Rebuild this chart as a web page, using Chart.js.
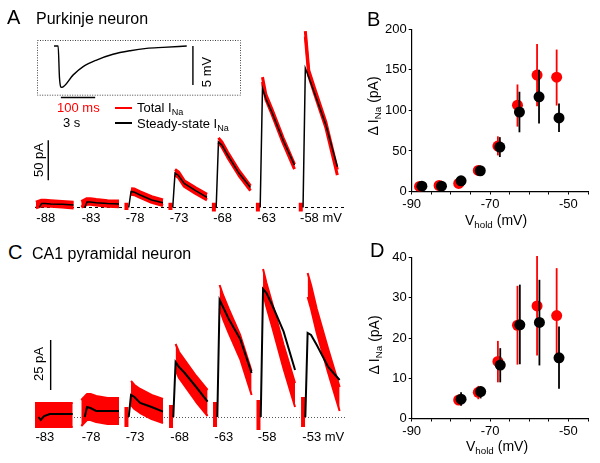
<!DOCTYPE html>
<html><head><meta charset="utf-8">
<script src="https://cdn.jsdelivr.net/npm/chart.js@4.4.1/dist/chart.umd.min.js"></script>
<style>
html,body{margin:0;padding:0;background:#fff;}
#root{position:relative;width:600px;height:463px;overflow:hidden;font-family:"Liberation Sans",Arial,sans-serif;color:#000;}
canvas{position:absolute;}
.t{position:absolute;white-space:nowrap;line-height:1;}
.rot{transform:translate(-50%,-50%) rotate(-90deg);}
.ctr{transform:translate(-50%,-50%);}
sub{font-size:0.7em;vertical-align:-0.3em;line-height:0;}
.sw{position:absolute;height:1.5px;width:17px;}
</style></head><body><div id="root">
<canvas id="cA" width="320" height="220" style="left:30px;top:15px"></canvas>
<canvas id="cI" width="220" height="70" style="left:30px;top:35px"></canvas>
<canvas id="cC" width="320" height="200" style="left:30px;top:252px"></canvas>
<canvas id="cB" width="240" height="230" style="left:360px;top:0px"></canvas>
<canvas id="cD" width="240" height="233" style="left:360px;top:230px"></canvas>

<div class="t" style="left:7px;top:7.4px;font-size:20px">A</div>
<div class="t" style="left:36px;top:10.9px;font-size:16px">Purkinje neuron</div>
<div class="t" style="left:367px;top:9.4px;font-size:20px">B</div>
<div class="t" style="left:8px;top:242.4px;font-size:20px">C</div>
<div class="t" style="left:32px;top:246.2px;font-size:16px">CA1 pyramidal neuron</div>
<div class="t" style="left:370px;top:240.4px;font-size:20px">D</div>
<div class="t rot" style="left:38px;top:160px;font-size:13px">50 pA</div>
<div class="t rot" style="left:37.5px;top:364px;font-size:13px">25 pA</div>
<div class="t rot" style="left:206px;top:72px;font-size:13px">5 mV</div>
<div class="t" style="left:57px;top:101px;font-size:13px;color:#ff0000">100 ms</div>
<div class="t" style="left:63px;top:115.5px;font-size:13px">3 s</div>
<div class="sw" style="left:115px;top:107px;background:#ff0000"></div>
<div class="sw" style="left:115px;top:122px;background:#000"></div>
<div class="t" style="left:137px;top:101px;font-size:13px">Total I<sub>Na</sub></div>
<div class="t" style="left:137px;top:116.5px;font-size:13px">Steady-state I<sub>Na</sub></div>
<div class="t rot" style="left:373px;top:106px;font-size:14px">Δ I<sub>Na</sub> (pA)</div>
<div class="t ctr" style="left:496px;top:220px;font-size:14px">V<sub>hold</sub> (mV)</div>
<div class="t rot" style="left:374px;top:345px;font-size:14px">Δ I<sub>Na</sub> (pA)</div>
<div class="t ctr" style="left:497px;top:446px;font-size:14px">V<sub>hold</sub> (mV)</div>
</div>
<script>
// ---------- Panel A inset: voltage trace (ms, mV) ----------
const insetT = [0, 12, 16, 22, 56, 85, 124, 172, 222, 270, 318, 387];
const insetV = [0, 0, -4.1, -5.3, -3.7, -2.65, -1.8, -1.06, -0.6, -0.3, -0.17, 0];

// ---------- Panel A: Purkinje traces (s, pA) ----------
const holdA = [-88, -83, -78, -73, -68, -63, -58];
const sweepStartA = [0.38, 4.35, 8.2, 12.05, 15.85, 19.7, 23.45];
const tSample = [0.2, 0.5, 1, 2, 3];
const ssA_peak = [5, 7, 20, 43, 82, 149, 174];
const ssA_05 = [5, 7, 19, 40, 78, 136, 163];
const ssA_1 = [4.5, 6, 15.6, 30, 65.6, 120, 143];
const ssA_2 = [4, 5, 9.4, 21, 42.7, 84, 103];
const ssA_3 = [3, 4.4, 6, 12.7, 25, 53, 51];
const totA_pre = [3, 4, null, null, null, null, null];
const totA_peak = [5.5, 7.5, 20, 44, 84, 160, 217];
const totA_05 = [5.5, 7.5, 19.5, 41, 79, 138, 168];
const totA_1 = [5, 6.5, 16, 30, 66, 121, 146];
const totA_2 = [4, 5, 10, 21, 43, 84, 103];
const totA_3 = [3, 4.5, 6, 13, 24, 51, 44];
const noiseA = [3.5, 3.5, 3.5, 3.5, 3, 3, 3.5];
const blipA_hi = [null, null, 6, 6, 6, 6, 6];
const blipA_lo = [null, null, -3, -3, -5, -5, -5];

// ---------- Panel C: CA1 traces (s, pA) ----------
const holdC = [-83, -78, -73, -68, -63, -58, -53];
const sweepStartC = [0.3, 4.35, 8.2, 12.1, 15.95, 19.75, 23.65];
const ssC_peak = [-1.5, 5, 11, 27.5, 58.5, 64, 42];
const ssC_05 = [0.5, 4.5, 10, 25, 55, 62, 41];
const ssC_1 = [1.5, 3, 7, 22, 49, 56, 36];
const ssC_2 = [1.5, 3, 5, 15, 39, 42.7, 25];
const ssC_3 = [1.5, 3, 2.7, 7.7, 22, 23.5, 18.5];
const totC_pre = [1, 2, null, null, null, null, null];
const totC_peak = [1, 5, 12, 30, 60, 68, 66];
const totC_05 = [1, 5, 10, 26, 55, 61, 60];
const totC_1 = [1, 4, 8, 22, 48, 51, 48];
const totC_2 = [1, 3, 5, 14, 35, 30, 28];
const totC_3 = [1, 3, 3, 7, 17, 11, 9];
const noiseC = [6, 6.5, 6, 6.5, 6, 6, 6];
const blipC_hi = [null, null, 5, 6, 7.5, 8.5, 10];
const blipC_lo = [null, null, -5, -5.5, -5, -6.5, -5];

// ---------- Panel B: Purkinje ΔINa vs Vhold ----------
const vRedB = [-88, -83, -78, -73, -68, -63, -58, -53];
const vBlackB = [-87.4, -82.4, -77.4, -72.5, -67.5, -62.5, -57.5, -52.4];
const totB = [6.2, 7.4, 9.9, 26, 56, 106.4, 143.5, 141];
const totB_hi = [6.2, 7.4, 12, 28, 68, 132, 182, 175];
const totB_lo = [6.2, 7.4, 8, 24, 44.5, 80, 105, 106];
const ssB = [6.6, 6.6, 13.2, 25.6, 54.8, 98, 116.7, 90.7];
const ssB_hi = [8, 8, 15, 28, 67, 123, 150, 108.5];
const ssB_lo = [5, 5, 11, 23, 42.5, 73, 83.7, 73.4];

// ---------- Panel D: CA1 ΔINa vs Vhold ----------
const vRedD = [-78, -73, -68, -63, -58, -53];
const vBlackD = [-77.4, -72.4, -67.4, -62.4, -57.4, -52.4];
const totD = [4.6, 6.5, 14.2, 23.2, 28, 25.6];
const totD_hi = [5.5, 8.1, 19.3, 33, 40.4, 37.4];
const totD_lo = [3.8, 4.8, 9, 13.4, 15.7, 14];
const ssD = [4.8, 6.7, 13.3, 23.3, 23.9, 15.1];
const ssD_hi = [6.5, 8, 17.5, 33.3, 34.5, 22.9];
const ssD_lo = [3.2, 5, 9, 13.5, 13.2, 7.4];

const RED = '#ff0000';
Chart.defaults.font.family = '"Liberation Sans", Arial, sans-serif';
Chart.defaults.color = '#000';
Chart.defaults.animation = false;
Chart.defaults.responsive = false;
Chart.defaults.devicePixelRatio = 1;
Chart.defaults.events = [];
Chart.defaults.plugins.legend.display = false;
Chart.defaults.plugins.tooltip.enabled = false;

// ---------- inset ----------
new Chart(document.getElementById('cI'), {
  type: 'line',
  data: { datasets: [{ data: insetT.map((t, i) => ({x: t, y: insetV[i]})), borderColor: '#000', borderWidth: 1.4,
    pointRadius: 0, fill: false, cubicInterpolationMode: 'monotone' }] },
  options: {
    layout: { padding: { left: 7, right: 9, top: 5, bottom: 9.3 } },
    scales: { x: { type: 'linear', min: -49.6, max: 545.2, display: false },
              y: { min: -6.37, max: 0.77, display: false } }
  },
  plugins: [{
    id: 'insetDeco',
    afterDraw(chart) {
      const c = chart.ctx, a = chart.chartArea, x = chart.scales.x, y = chart.scales.y;
      c.save();
      c.strokeStyle = '#444'; c.lineWidth = 1; c.setLineDash([1, 1.5]);
      c.strokeRect(a.left + 0.5, a.top + 0.5, a.right - a.left - 1, a.bottom - a.top - 1);
      c.setLineDash([]); c.strokeStyle = '#000'; c.lineWidth = 1.4;
      c.beginPath();
      c.moveTo(x.getPixelForValue(405), y.getPixelForValue(0));
      c.lineTo(x.getPixelForValue(405), y.getPixelForValue(-5));
      c.moveTo(x.getPixelForValue(20), a.bottom + 1.8);
      c.lineTo(x.getPixelForValue(120), a.bottom + 1.8);
      c.stroke();
      c.restore();
    }
  }]
});

// ---------- trace panels ----------
function traceChart(id, o) {
  const datasets = [];
  const black = [];
  o.starts.forEach((s, i) => {
    black.push({x: s, y: 0});
    tSample.forEach((t, k) => black.push({x: s + t, y: o.ss[k][i]}));
    black.push({x: s + 3.1, y: null});
  });
  datasets.push({ data: black, borderColor: '#000', borderWidth: o.bw, pointRadius: 0, fill: false, order: 0, spanGaps: false });
  o.starts.forEach((s, i) => {
    const pts = [];
    if (o.pre[i] !== null) pts.push([s - 0.3, o.pre[i]]);
    tSample.forEach((t, k) => pts.push([s + t, o.tot[k][i]]));
    datasets.push({ data: pts.map(p => ({x: p[0], y: p[1] + o.noise[i]})), borderColor: RED, borderWidth: o.edgeW,
      pointRadius: 0, fill: false, order: 2, borderJoinStyle: 'round' });
    datasets.push({ data: pts.map(p => ({x: p[0], y: p[1] - o.noise[i]})), borderColor: RED, borderWidth: o.edgeW,
      pointRadius: 0, fill: '-1', backgroundColor: RED, order: 2, borderJoinStyle: 'round' });
  });
  const blip = [];
  o.starts.forEach((s, i) => {
    if (o.bHi[i] !== null) blip.push({x: s - 0.2, y: o.bHi[i]}, {x: s - 0.2, y: o.bLo[i]}, {x: s - 0.15, y: null});
  });
  datasets.push({ data: blip, borderColor: RED, borderWidth: o.blipW, pointRadius: 0, fill: false, order: 3, spanGaps: false, borderCapStyle: 'butt' });

  new Chart(document.getElementById(id), {
    type: 'line',
    data: { datasets },
    options: {
      layout: { padding: o.pad },
      elements: { line: { tension: 0 } },
      scales: { x: { type: 'linear', min: 0, max: 27.12, display: false },
                y: { min: o.ymin, max: o.ymax, display: false } }
    },
    plugins: [{
      id: 'deco',
      beforeDatasetsDraw(chart) {
        const c = chart.ctx, a = chart.chartArea, y0 = chart.scales.y.getPixelForValue(0);
        c.save();
        c.strokeStyle = o.baseColor; c.lineWidth = 1; c.setLineDash(o.dash);
        c.beginPath(); c.moveTo(a.left, Math.round(y0) + 0.5); c.lineTo(a.right, Math.round(y0) + 0.5); c.stroke();
        c.restore();
      },
      afterDraw(chart) {
        const c = chart.ctx, a = chart.chartArea, x = chart.scales.x, y = chart.scales.y;
        c.save();
        c.strokeStyle = '#000'; c.lineWidth = 1.4;
        c.beginPath();
        c.moveTo(x.getPixelForValue(o.bar[0]), y.getPixelForValue(o.bar[1]));
        c.lineTo(x.getPixelForValue(o.bar[0]), y.getPixelForValue(o.bar[2]));
        c.stroke();
        c.fillStyle = '#000'; c.font = '13px "Liberation Sans", Arial, sans-serif';
        c.textAlign = 'left'; c.textBaseline = 'middle';
        o.starts.forEach((s, i) => {
          const lab = String(o.hold[i]) + (i === o.hold.length - 1 ? ' mV' : '');
          c.fillText(lab, x.getPixelForValue(s) - 3, a.bottom + o.labOff);
        });
        c.restore();
      }
    }]
  });
}

traceChart('cA', {
  starts: sweepStartA, hold: holdA,
  ss: [ssA_peak, ssA_05, ssA_1, ssA_2, ssA_3],
  tot: [totA_peak, totA_05, totA_1, totA_2, totA_3],
  pre: totA_pre, noise: noiseA, bHi: blipA_hi, bLo: blipA_lo,
  bw: 1.5, blipW: 4, edgeW: 3, ymin: -9.4, ymax: 234.4,
  pad: { left: 5, right: 5, top: 5, bottom: 20 },
  baseColor: '#000', dash: [3, 3], bar: [1.16, 34, 84], labOff: 3.5
});
traceChart('cC', {
  starts: sweepStartC, hold: holdC,
  ss: [ssC_peak, ssC_05, ssC_1, ssC_2, ssC_3],
  tot: [totC_peak, totC_05, totC_1, totC_2, totC_3],
  pre: totC_pre, noise: noiseC, bHi: blipC_hi, bLo: blipC_lo,
  bw: 2, blipW: 4, edgeW: 2, ymin: -6.5, ymax: 77.5,
  pad: { left: 5, right: 5, top: 10, bottom: 22 },
  baseColor: '#555', dash: [1, 2], bar: [1.37, 13.5, 38.5], labOff: 7
});

// ---------- I-V panels ----------
const errorBars = {
  id: 'errorBars',
  beforeDatasetDraw(chart, args) {
    const ds = chart.data.datasets[args.index];
    const c = chart.ctx, x = chart.scales.x, y = chart.scales.y;
    c.save();
    c.strokeStyle = ds.borderColor; c.lineWidth = 1.8;
    ds.data.forEach((p, i) => {
      const px = x.getPixelForValue(p.x);
      c.beginPath();
      c.moveTo(px, y.getPixelForValue(ds.errHi[i]));
      c.lineTo(px, y.getPixelForValue(ds.errLo[i]));
      c.stroke();
    });
    c.restore();
  }
};

function ivChart(id, o) {
  new Chart(document.getElementById(id), {
    type: 'scatter',
    data: { datasets: [
      { data: o.vB.map((v, i) => ({x: v, y: o.ss[i]})), backgroundColor: '#000', borderColor: '#000', borderWidth: 0,
        pointRadius: 5.5, order: 0, errHi: o.ssHi, errLo: o.ssLo },
      { data: o.vR.map((v, i) => ({x: v, y: o.tot[i]})), backgroundColor: RED, borderColor: RED, borderWidth: 0,
        pointRadius: 5.5, order: 1, errHi: o.totHi, errLo: o.totLo }
    ] },
    options: {
      layout: { padding: { top: o.padTop, right: 12, left: 0, bottom: 0 } },
      scales: {
        x: { type: 'linear', min: -90, max: -45,
             afterFit: s => { s.height = o.xh; },
             ticks: { stepSize: 5, autoSkip: false, maxRotation: 0, padding: 2, font: { size: 13 },
                      callback: v => ([-90, -70, -50].includes(v) ? String(v) : '') },
             grid: { drawOnChartArea: false, tickLength: 3, color: '#000', lineWidth: 1 },
             border: { color: '#000', width: 1.2 } },
        y: { min: 0, max: o.ymax,
             afterFit: s => { s.width = 51.7; },
             ticks: { stepSize: o.step, padding: 2, font: { size: 13 } },
             grid: { drawOnChartArea: false, tickLength: 3, color: '#000', lineWidth: 1 },
             border: { color: '#000', width: 1.2 } }
      }
    },
    plugins: [errorBars]
  });
}

ivChart('cB', { vR: vRedB, vB: vBlackB, tot: totB, totHi: totB_hi, totLo: totB_lo,
  ss: ssB, ssHi: ssB_hi, ssLo: ssB_lo, ymax: 200, step: 50, padTop: 29.3, xh: 38.5 });
ivChart('cD', { vR: vRedD, vB: vBlackD, tot: totD, totHi: totD_hi, totLo: totD_lo,
  ss: ssD, ssHi: ssD_hi, ssLo: ssD_lo, ymax: 40, step: 10, padTop: 27.7, xh: 44.5 });
</script>
</body></html>
